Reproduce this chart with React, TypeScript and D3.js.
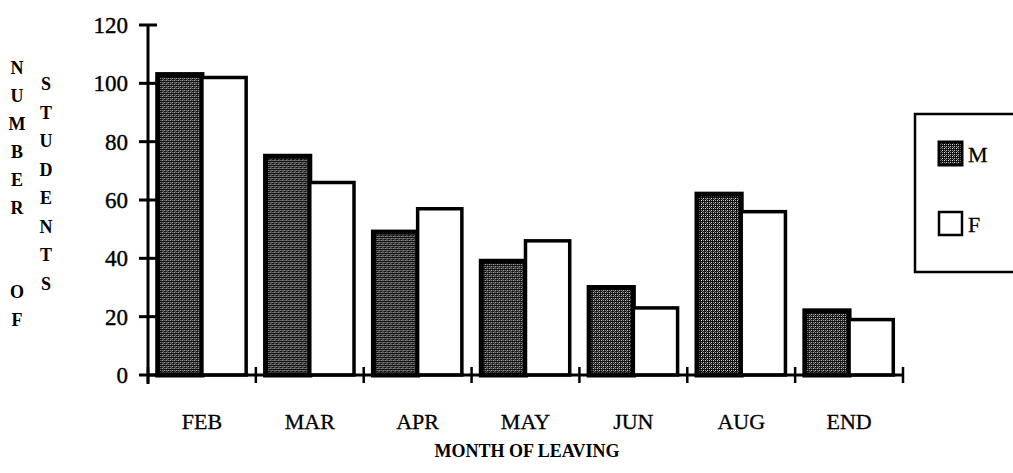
import React from 'react';
import { scaleBand, scaleLinear } from 'd3';

// data
const months = ['FEB', 'MAR', 'APR', 'MAY', 'JUN', 'AUG', 'END'];
const maleCounts = [103, 75, 49, 39, 30, 62, 22];
const femaleCounts = [102, 66, 57, 46, 23, 56, 19];
const yTicks = [0, 20, 40, 60, 80, 100, 120];
const seriesNames = ['M', 'F'];

const W = 1013;
const H = 473;
const left = 148;
const right = 903;
const top = 25;
const bottom = 375;
const serif = '"Liberation Serif", "Times New Roman", serif';

export default function App() {
  const x = scaleBand<string>()
    .domain(months)
    .range([left, right])
    .paddingInner(0.18)
    .paddingOuter(0.09);
  const sub = scaleBand<string>().domain(seriesNames).range([0, x.bandwidth()]);
  const y = scaleLinear().domain([0, 120]).range([bottom, top]);
  const step = x.step();

  const rows = months.map((m, i) => ({ m, M: maleCounts[i], F: femaleCounts[i] }));
  const boundaries = months.map((m) => (x(m) as number) - step * 0.09).concat([right]);

  const col1 = 'NUMBER  OF'.split('');
  const col2 = 'STUDENTS'.split('');

  return (
    <svg width={W} height={H} style={{ position: 'absolute', left: 0, top: 0, background: '#fff' }}>
      <defs>
        <pattern id="speckle" width="4" height="4" patternUnits="userSpaceOnUse">
          <rect width="4" height="4" fill="#111" />
          <rect x="0" y="0" width="1" height="1" fill="#ddd" />
          <rect x="2" y="2" width="1" height="1" fill="#ddd" />
          <rect x="2" y="0" width="1" height="1" fill="#999" />
          <rect x="0" y="2" width="1" height="1" fill="#999" />
          <rect x="1" y="3" width="1" height="1" fill="#777" />
        </pattern>
      </defs>

      {/* bars */}
      {rows.map((r) => (
        <g key={r.m} transform={`translate(${x(r.m)},0)`}>
          <rect
            x={sub('M')}
            y={y(r.M)}
            width={sub.bandwidth()}
            height={bottom - y(r.M)}
            fill="url(#speckle)"
            stroke="#000"
            strokeWidth={5}
          />
          <rect
            x={sub('F')}
            y={y(r.F)}
            width={sub.bandwidth()}
            height={bottom - y(r.F)}
            fill="#fff"
            stroke="#000"
            strokeWidth={3.5}
          />
        </g>
      ))}

      {/* y axis */}
      <line x1={left} x2={left} y1={top} y2={bottom + 9} stroke="#000" strokeWidth={3} />
      {yTicks.map((t) => (
        <g key={t}>
          <line x1={left - 9} x2={left + 9} y1={y(t)} y2={y(t)} stroke="#000" strokeWidth={3} />
          <text
            x={left - 20}
            y={y(t)}
            dy="0.35em"
            textAnchor="end"
            fontFamily={serif}
            fontSize={23}
            stroke="#000"
            strokeWidth={0.4}
          >
            {t}
          </text>
        </g>
      ))}

      {/* x axis */}
      <line x1={left} x2={right} y1={bottom} y2={bottom} stroke="#000" strokeWidth={3} />
      {boundaries.map((b, i) => (
        <line key={i} x1={b} x2={b} y1={bottom - 8} y2={bottom + 8} stroke="#000" strokeWidth={2.5} />
      ))}
      {months.map((m) => (
        <text
          key={m}
          x={(x(m) as number) + x.bandwidth() / 2}
          y={429}
          textAnchor="middle"
          fontFamily={serif}
          fontSize={22}
          stroke="#000"
          strokeWidth={0.3}
        >
          {m}
        </text>
      ))}
      <text x={527} y={457} textAnchor="middle" fontFamily={serif} fontSize={18} fontWeight="bold">
        MONTH OF LEAVING
      </text>

      {/* vertical y title */}
      {col1.map((c, i) => (
        <text key={'a' + i} x={17} y={68 + i * 28} dy="0.35em" textAnchor="middle" fontFamily={serif} fontSize={18} fontWeight="bold">
          {c}
        </text>
      ))}
      {col2.map((c, i) => (
        <text key={'b' + i} x={46} y={84 + i * 28.5} dy="0.35em" textAnchor="middle" fontFamily={serif} fontSize={18} fontWeight="bold">
          {c}
        </text>
      ))}

      {/* legend */}
      <rect x={915} y={114} width={120} height={158} fill="#fff" stroke="#000" strokeWidth={2.5} />
      {seriesNames.map((s, i) => (
        <g key={s} transform={`translate(0,${i * 70})`}>
          <rect
            x={939}
            y={142}
            width={23}
            height={23}
            fill={s === 'M' ? 'url(#speckle)' : '#fff'}
            stroke="#000"
            strokeWidth={s === 'M' ? 3 : 2.5}
          />
          <text x={968} y={162} fontFamily={serif} fontSize={22} stroke="#000" strokeWidth={0.3}>
            {s}
          </text>
        </g>
      ))}
    </svg>
  );
}
